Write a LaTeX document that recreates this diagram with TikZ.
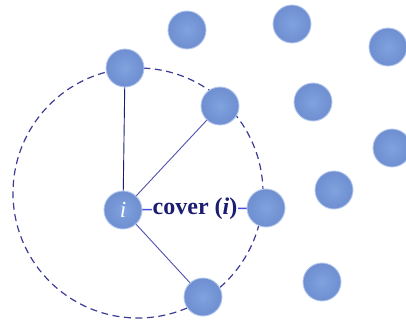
\documentclass[tikz,border=0pt]{standalone}
\usepackage{fontspec}
\setmainfont{Liberation Serif}
\definecolor{ballblue}{RGB}{128,162,222}
\definecolor{balldark}{RGB}{110,142,208}
\definecolor{ballrim}{RGB}{178,198,238}
\definecolor{navy}{RGB}{28,28,115}
\definecolor{dashblue}{RGB}{60,60,150}
\definecolor{midblue}{RGB}{80,80,175}
\definecolor{brightblue}{RGB}{75,75,225}
\begin{document}
\begin{tikzpicture}[x=1pt,y=-1pt,
  ball/.style={circle,minimum size=38pt,inner sep=0pt,
    inner color=ballblue,outer color=balldark,draw=ballrim,line width=0.9pt},
  link/.style={line width=0.9pt}]
\useasboundingbox (0,0) rectangle (406,322);
% dashed neighbourhood
\draw[dashblue,line width=1.2pt,dash pattern=on 7pt off 4.5pt] (138,193) circle (125pt);
% coordinates of balls
\coordinate (pi) at (123,210);
\coordinate (pt) at (125,68);
\coordinate (pu) at (220,106);
\coordinate (pr) at (266,208);
\coordinate (pb) at (203,297);
% links
\draw[link,navy] (pi) -- (pt);
\draw[link,midblue] (pi) -- (pu);
\draw[link,midblue] (pi) -- (pb);
\draw[line width=1.5pt,brightblue] (pi) -- (pr);
% balls
\node[ball] (i) at (pi) {\fontsize{23}{23}\selectfont\color{white}\textit{i}};
\node[ball] (t) at (pt) {};
\node[ball] (u) at (pu) {};
\node[ball] (r) at (pr) {};
\node[ball] (b) at (pb) {};
\node[ball] (o1) at (187,30) {};
\node[ball] (o2) at (292,24) {};
\node[ball] (o3) at (388,47) {};
\node[ball] (o4) at (313,102) {};
\node[ball] (o5) at (392,148) {};
\node[ball] (o6) at (334,190) {};
\node[ball] (o7) at (322,282) {};
% label
\node[fill=white,inner sep=1pt,text=navy,font=\bfseries\fontsize{24}{24}\selectfont] (lab) at (195,209) {cover (\textit{i})};
\end{tikzpicture}
\end{document}
